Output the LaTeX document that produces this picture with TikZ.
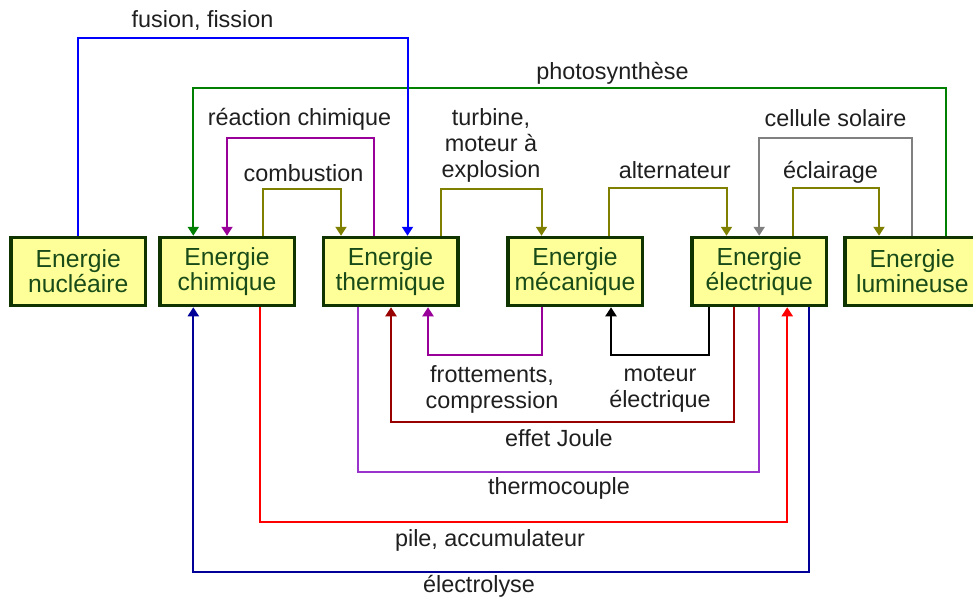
\documentclass[tikz,border=0pt]{standalone}
\usepackage{fontspec}
\setmainfont{Liberation Sans}
\usetikzlibrary{arrows.meta}
\definecolor{boxline}{RGB}{16,52,0}
\definecolor{boxfill}{RGB}{255,255,153}
\definecolor{boxtext}{RGB}{25,75,25}
\definecolor{nucblue}{RGB}{0,0,255}
\definecolor{photogreen}{RGB}{0,128,0}
\definecolor{chempurple}{RGB}{153,0,153}
\definecolor{thermopurple}{RGB}{153,51,204}
\definecolor{olivec}{RGB}{128,128,0}
\definecolor{solargray}{RGB}{128,128,128}
\definecolor{joulered}{RGB}{153,0,0}
\definecolor{pilered}{RGB}{255,0,0}
\definecolor{electronavy}{RGB}{0,0,153}
\tikzset{
	energybox/.style={draw=boxline, fill=boxfill, line width=3.5pt, minimum width=134.5pt, minimum height=68pt, inner sep=0pt, align=center, text=boxtext, font=\fontsize{24.7}{25}\selectfont},
	convlabel/.style={font=\fontsize{23.4}{26}\selectfont, text=black!88, align=center},
	convline/.style={line width=2pt},
	conv/.style={convline, -{Triangle[width=11pt,length=9pt]}},
}

\begin{document}
\begin{tikzpicture}[x=1pt, y=-1pt]
			%%%%% START %%%%%
			\useasboundingbox (0, 0) rectangle (973, 598);
			
			\node[energybox] (nuc) at (78.3, 271.5) {Energie\\nucléaire};
			\node[energybox] (chim) at (227, 271.5) {Energie\\chimique};
			\node[energybox] (therm) at (390.5, 271.5) {Energie\\thermique};
			\node[energybox] (meca) at (575, 271.5) {Energie\\mécanique};
			\node[energybox] (elec) at (759.2, 271.5) {Energie\\électrique};
			\node[energybox] (lum) at (912.3, 271.5) {Energie\\lumineuse};
			
			%%%%% above the boxes %%%%%
			\draw[conv, color=photogreen] ([xshift=33.4pt]lum.north) -- ++(0, -147.4) -| ([xshift=-33.7pt]chim.north);
			\draw[conv, color=nucblue] (nuc.north) -- ++(0, -197.4) -| ([xshift=17pt]therm.north);
			\draw[conv, color=chempurple] ([xshift=-16.5pt]therm.north) -- ++(0, -97.4) -| (chim.north);
			\draw[conv, color=olivec] ([xshift=36.3pt]chim.north) -- ++(0, -46.7) -| ([xshift=-49.5pt]therm.north);
			\draw[conv, color=olivec] ([xshift=50.5pt]therm.north) -- ++(0, -46.7) -| ([xshift=-33.5pt]meca.north);
			\draw[conv, color=olivec] ([xshift=34pt]meca.north) -- ++(0, -47.4) -| ([xshift=-32.7pt]elec.north);
			\draw[conv, color=solargray] (lum.north) -- ++(0, -97.4) -| (elec.north);
			\draw[conv, color=olivec] ([xshift=34pt]elec.north) -- ++(0, -47.4) -| ([xshift=-33.3pt]lum.north);
			
			\node[convlabel, anchor=base] (lfusion) at (202.5, 27) {fusion, fission};
			\node[convlabel, anchor=base] (lphoto) at (612.5, 79.5) {photosynthèse};
			\node[convlabel, anchor=base] (lreac) at (299.5, 125) {réaction chimique};
			\node[convlabel, anchor=base] (lcomb) at (303.5, 181.7) {combustion};
			\node[convlabel] (lturb) at (491, 145) {turbine,\\moteur à\\explosion};
			\node[convlabel, anchor=base] (lalt) at (674.7, 178.3) {alternateur};
			\node[convlabel, anchor=base] (lcell) at (835.5, 126) {cellule solaire};
			\node[convlabel, anchor=base] (lecl) at (830.5, 178.3) {éclairage};
			
			%%%%% below the boxes %%%%%
			\draw[conv, color=chempurple] ([xshift=-33.3pt]meca.south) -- ++(0, 47.7) -| ([xshift=37.5pt]therm.south);
			\draw[conv, color=black] ([xshift=-50pt]elec.south) -- ++(0, 47.7) -| ([xshift=36pt]meca.south);
			\draw[conv, color=joulered] ([xshift=-25.7pt]elec.south) -- ++(0, 114.4) -| ([xshift=0.5pt]therm.south);
			\draw[convline, color=thermopurple] ([xshift=-33pt]therm.south) -- ++(0, 165) -| (elec.south);
			\draw[conv, color=pilered] ([xshift=33pt]chim.south) -- ++(0, 214.4) -| ([xshift=28pt]elec.south);
			\draw[conv, color=electronavy] ([xshift=50pt]elec.south) -- ++(0, 265) -| ([xshift=-33.7pt]chim.south);
			
			\node[convlabel] (lfrot) at (492, 389) {frottements,\\compression};
			\node[convlabel] (lmot) at (660, 389) {moteur\\électrique};
			\node[convlabel, anchor=base] (ljoule) at (559, 446.7) {effet Joule};
			\node[convlabel, anchor=base] (lthermo) at (559, 494.3) {thermocouple};
			\node[convlabel, anchor=base] (lpile) at (490, 546.7) {pile, accumulateur};
			\node[convlabel, anchor=base] (lelec) at (479, 592.7) {électrolyse};
			
			%%%%% END %%%%%
		\end{tikzpicture}
\end{document}
